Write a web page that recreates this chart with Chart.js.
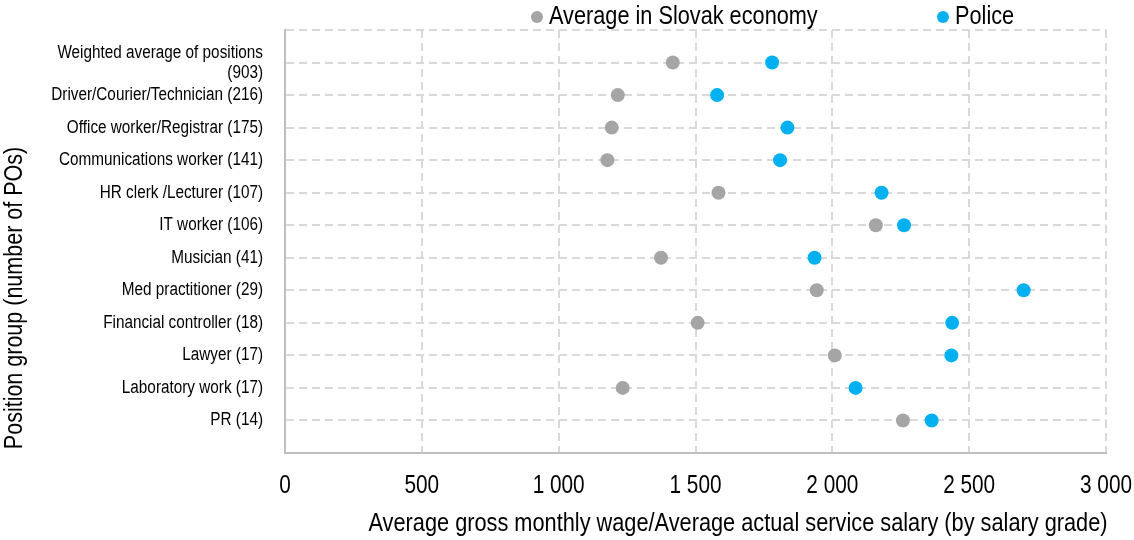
<!DOCTYPE html>
<html>
<head>
<meta charset="utf-8">
<script src="https://cdn.jsdelivr.net/npm/chart.js@4.4.1/dist/chart.umd.min.js"></script>
<style>
  html, body { margin: 0; padding: 0; background: #fff; }
  #wrap { width: 1134px; height: 540px; position: relative; }
</style>
</head>
<body>
<div id="wrap"><canvas id="c" width="1134" height="540"></canvas></div>
<script>
// Position groups (number of police officers), top to bottom
const positions = [
  ['Weighted average of positions', '(903)'],
  'Driver/Courier/Technician (216)',
  'Office worker/Registrar (175)',
  'Communications worker (141)',
  'HR clerk /Lecturer (107)',
  'IT worker (106)',
  'Musician (41)',
  'Med practitioner (29)',
  'Financial controller (18)',
  'Lawyer (17)',
  'Laboratory work (17)',
  'PR (14)'
];

// Average gross monthly wage in the Slovak economy
const economyWage = [1417, 1216, 1194, 1178, 1584, 2159, 1374, 1943, 1508, 2009, 1234, 2258];

// Average actual service salary in the Police (by salary grade)
const policeSalary = [1780, 1579, 1836, 1809, 2180, 2262, 1935, 2699, 2438, 2435, 2085, 2363];

const xTicks = [0, 500, 1000, 1500, 2000, 2500, 3000];

const seriesNames = ['Average in Slovak economy', 'Police'];
const axisTitleX = 'Average gross monthly wage/Average actual service salary (by salary grade)';
const axisTitleY = 'Position group (number of POs)';

const GREY = '#A5A5A5';
const BLUE = '#00B0F0';
const FONT = "'Liberation Sans', Arial, sans-serif";

const toPoints = vals => vals.map((v, i) => ({ x: v, y: i + 1 }));
const fmt = v => String(v).replace(/\B(?=(\d{3})+(?!\d))/g, ' ');

// Narrow-face text: regular sans squeezed horizontally
function narrowText(ctx, text, x, y, size, align, squeeze) {
  ctx.save();
  ctx.font = size + 'px ' + FONT;
  ctx.textAlign = align;
  ctx.textBaseline = 'middle';
  ctx.translate(x, y);
  ctx.scale(squeeze, 1);
  ctx.fillText(text, 0, 0);
  ctx.restore();
}

// Tick labels, legend and axis titles in a narrow face
const narrowLabels = {
  id: 'narrowLabels',
  afterDraw(chart) {
    const ctx = chart.ctx;
    const { x: xs, y: ys } = chart.scales;
    ctx.save();
    ctx.fillStyle = '#000';

    // category labels on the y axis
    const yRight = chart.chartArea.left - 22;
    positions.forEach((lab, i) => {
      const py = ys.getPixelForValue(i + 1);
      const lines = Array.isArray(lab) ? lab : [lab];
      const lh = 20;
      lines.forEach((ln, k) => {
        const off = (k - (lines.length - 1) / 2) * lh;
        narrowText(ctx, ln, yRight, py + off, 18, 'right', 0.85);
      });
    });

    // value labels on the x axis
    xTicks.forEach(v => {
      narrowText(ctx, fmt(v), xs.getPixelForValue(v), 486, 26, 'center', 0.8);
    });

    // legend
    const items = [
      { name: seriesNames[0], color: GREY, x: 537 },
      { name: seriesNames[1], color: BLUE, x: 943 }
    ];
    items.forEach(it => {
      ctx.beginPath();
      ctx.fillStyle = it.color;
      ctx.arc(it.x, 17, 6, 0, Math.PI * 2);
      ctx.fill();
      ctx.fillStyle = '#000';
      narrowText(ctx, it.name, it.x + 12, 17, 26, 'left', 0.835);
    });

    // axis titles
    narrowText(ctx, axisTitleX, 738, 524, 25, 'center', 0.87);
    ctx.save();
    ctx.translate(15, 298);
    ctx.rotate(-Math.PI / 2);
    narrowText(ctx, axisTitleY, 0, 0, 25, 'center', 0.86);
    ctx.restore();

    ctx.restore();
  }
};

new Chart(document.getElementById('c'), {
  type: 'scatter',
  data: {
    datasets: [
      {
        label: seriesNames[0],
        data: toPoints(economyWage),
        backgroundColor: GREY,
        borderWidth: 0,
        pointRadius: 7,
        pointHoverRadius: 7
      },
      {
        label: seriesNames[1],
        data: toPoints(policeSalary),
        backgroundColor: BLUE,
        borderWidth: 0,
        pointRadius: 7,
        pointHoverRadius: 7
      }
    ]
  },
  options: {
    responsive: false,
    animation: false,
    layout: { padding: { top: 30, right: 28, left: 0, bottom: 0 } },
    plugins: {
      legend: { display: false },
      tooltip: { enabled: false }
    },
    scales: {
      x: {
        type: 'linear',
        min: 0,
        max: 3000,
        afterBuildTicks: s => { s.ticks = xTicks.map(v => ({ value: v })); },
        afterFit: s => { s.height = 87; },
        ticks: { display: false },
        grid: { color: '#D9D9D9', lineWidth: 2, drawTicks: false },
        border: { display: true, color: '#BFBFBF', width: 2, dash: [8, 5] }
      },
      y: {
        type: 'linear',
        reverse: true,
        min: 0,
        max: positions.length + 1,
        afterBuildTicks: s => {
          const t = [];
          for (let i = 0; i <= positions.length + 1; i++) t.push({ value: i });
          s.ticks = t;
        },
        afterFit: s => { s.width = 285; },
        ticks: { display: false },
        grid: { color: '#D9D9D9', lineWidth: 2, drawTicks: false },
        border: { display: true, color: '#BFBFBF', width: 2, dash: [8, 5] }
      }
    }
  },
  plugins: [narrowLabels]
});
</script>
</body>
</html>
